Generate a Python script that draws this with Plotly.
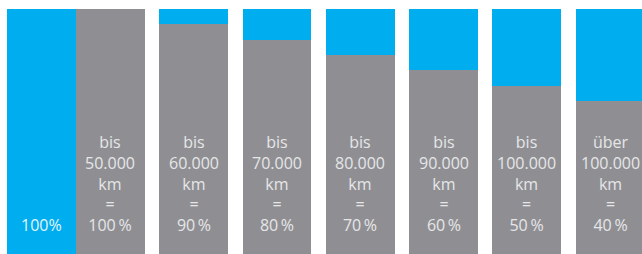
import plotly.graph_objects as go

# ---- data ----
ref_label = "100%"
ref_value = 100
prefixes = ["bis", "bis", "bis", "bis", "bis", "bis", "über"]
km_limits = ["50.000", "60.000", "70.000", "80.000", "90.000", "100.000", "100.000"]
values = [100, 90, 80, 70, 60, 50, 40]

# ---- style ----
BLUE = "#00adef"
GRAY = "#8f8f93"
Y_MIN = -59.8
Y_MAX = 105.9
W = 0.825

positions = list(range(1, len(values) + 1))

fig = go.Figure()

# blue background (full value) behind every gray bar
fig.add_trace(go.Bar(
    x=positions, y=[ref_value - Y_MIN] * len(values), base=Y_MIN,
    width=W, marker=dict(color=BLUE, line=dict(width=0)), hoverinfo="skip",
))
# gray remaining value
fig.add_trace(go.Bar(
    x=positions, y=[v - Y_MIN for v in values], base=Y_MIN,
    width=W, marker=dict(color=GRAY, line=dict(width=0)), hoverinfo="skip",
))
# blue reference bar, placed directly left of the first gray bar
fig.add_trace(go.Bar(
    x=[positions[0]], y=[ref_value - Y_MIN], base=Y_MIN,
    width=W, offset=-1.5 * W,
    marker=dict(color=BLUE, line=dict(width=0)), hoverinfo="skip",
))

annotations = []
for p, pre, km, v in zip(positions, prefixes, km_limits, values):
    annotations.append(dict(
        x=p, xref="x", y=0, yref="paper", yanchor="bottom", yshift=16,
        text=f"{pre}<br>{km}<br>km<br>=<br>{v}\u2009%",
        showarrow=False, font=dict(family="Open Sans", size=16, color="#e6e6e8"),
    ))
annotations.append(dict(
    x=positions[0] - W, xref="x", y=0, yref="paper", yanchor="bottom", yshift=16,
    text=ref_label, showarrow=False,
    font=dict(family="Open Sans", size=16, color="#e3f4fc"),
))

fig.update_layout(
    width=642, height=254,
    margin=dict(l=0, r=0, t=0, b=0),
    paper_bgcolor="white", plot_bgcolor="white",
    barmode="overlay", bargap=0, showlegend=False,
    hovermode=False,
    xaxis=dict(range=[-0.327, 7.384], visible=False, fixedrange=True),
    yaxis=dict(range=[Y_MIN, Y_MAX], visible=False, fixedrange=True),
    annotations=annotations,
)

fig.write_html(
    "out.html",
    config={"displayModeBar": False, "staticPlot": True},
    post_script="document.body.style.margin='0';"
                "document.documentElement.style.overflow='hidden';"
                "document.body.style.overflow='hidden';",
)
